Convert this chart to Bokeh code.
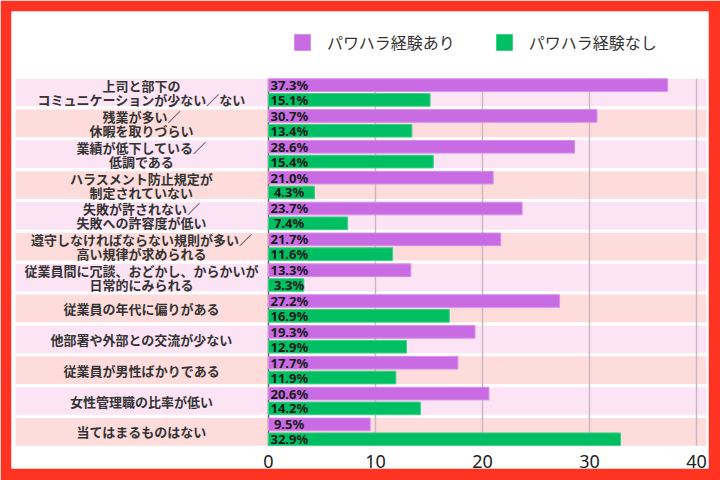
from bokeh.plotting import figure
from bokeh.models import Range1d, FixedTicker, Legend, LegendItem
from bokeh.core.properties import value
from bokeh.embed import file_html
from bokeh.resources import INLINE

# ---- data ----
categories = [
    "上司と部下の\nコミュニケーションが少ない／ない",
    "残業が多い／\n休暇を取りづらい",
    "業績が低下している／\n低調である",
    "ハラスメント防止規定が\n制定されていない",
    "失敗が許されない／\n失敗への許容度が低い",
    "遵守しなければならない規則が多い／\n高い規律が求められる",
    "従業員間に冗談、おどかし、からかいが\n日常的にみられる",
    "従業員の年代に偏りがある",
    "他部署や外部との交流が少ない",
    "従業員が男性ばかりである",
    "女性管理職の比率が低い",
    "当てはまるものはない",
]
with_pawahara = [37.3, 30.7, 28.6, 21.0, 23.7, 21.7, 13.3, 27.2, 19.3, 17.7, 20.6, 9.5]
without_pawahara = [15.1, 13.4, 15.4, 4.3, 7.4, 11.6, 3.3, 16.9, 12.9, 11.9, 14.2, 32.9]
series_names = ["パワハラ経験あり", "パワハラ経験なし"]
x_ticks = [0, 10, 20, 30, 40]
grid_ticks = [10, 20, 30, 40]

# ---- layout constants (pixels) ----
W, H = 720, 480
FRAME_L, FRAME_T, FRAME_R, FRAME_B = 11, 11, 708, 468
ZERO_PX, PX_PER_UNIT = 268, 10.7
ROW0_PX, PITCH = 92, 30.85
BAND_L_PX, BAND_R_PX = 15, 706
LABEL_CENTER_PX = 141
LINE_GAP_PX = 14

def xd(px):
    return (px - ZERO_PX) / PX_PER_UNIT

def yd(py):
    return (py - ROW0_PX) / PITCH

PURPLE = "#c96ce3"
GREEN = "#00bf63"
BAND_COLORS = ["#fde4f5", "#fddcdb"]
RED = "#ff3322"

p = figure(
    width=W, height=H,
    x_range=Range1d(xd(FRAME_L), xd(FRAME_R)),
    y_range=Range1d(yd(FRAME_B), yd(FRAME_T)),
    output_backend="svg", toolbar_location=None,
    min_border_left=FRAME_L, min_border_top=FRAME_T,
    min_border_right=W - FRAME_R, min_border_bottom=H - FRAME_B,
)
p.border_fill_color = RED
p.background_fill_color = "white"
p.outline_line_color = None
p.xgrid.visible = False
p.ygrid.visible = False
p.yaxis.visible = False

n = len(categories)
rows = list(range(n))
band_half = 0.449

# bands
p.quad(left=xd(BAND_L_PX), right=xd(BAND_R_PX),
       bottom=[r + band_half for r in rows], top=[r - band_half for r in rows],
       fill_color=[BAND_COLORS[r % 2] for r in rows], line_color=None)

# grid lines
p.segment(x0=grid_ticks, x1=grid_ticks,
          y0=[-band_half] * len(grid_ticks), y1=[n - 1 + band_half] * len(grid_ticks),
          line_color="#cbb7c2", line_width=1.5)
# axis line at 0
p.segment(x0=[0], x1=[0], y0=[-band_half], y1=[n - 1 + band_half],
          line_color="#666666", line_width=1.5)

off, bh = 0.24, 0.41
r1 = p.hbar(y=[r - off for r in rows], left=0, right=with_pawahara, height=bh,
            fill_color=PURPLE, line_color="#d690ea", line_width=1)
r2 = p.hbar(y=[r + off for r in rows], left=0, right=without_pawahara, height=bh,
            fill_color=GREEN, line_color="#3fd08a", line_width=1)

# value labels (padded like "%4.1f", with non-breaking space)
for vals, sgn in ((with_pawahara, -1), (without_pawahara, 1)):
    p.text(x=0, y=[r + sgn * off for r in rows],
           text=[f"{v:4.1f}%".replace(" ", "\u00a0") for v in vals],
           x_offset=2, text_baseline="middle", text_align="left",
           text_font=value("Noto Sans"), text_font_style="bold",
           text_font_size="13px", text_color="#1a1a1a")

# category labels, one glyph per line
lab_y, lab_t, lab_off = [], [], []
for r, cat in zip(rows, categories):
    lines = cat.split("\n")
    k = len(lines)
    for j, line in enumerate(lines):
        lab_y.append(r)
        lab_t.append(line)
        lab_off.append((j - (k - 1) / 2) * LINE_GAP_PX)
p.text(x=xd(LABEL_CENTER_PX), y=lab_y, text=lab_t, y_offset=lab_off,
       text_baseline="middle", text_align="center",
       text_font=value("Noto Sans CJK JP"), text_font_style="bold",
       text_font_size="13px", text_color="#333333")

# x axis inside the frame
xa = p.xaxis[0]
xa.fixed_location = yd(446)
xa.ticker = FixedTicker(ticks=x_ticks)
xa.axis_line_color = None
xa.major_tick_line_color = None
xa.minor_tick_line_color = None
xa.major_label_standoff = 2
xa.major_label_text_font = "Noto Sans"
xa.major_label_text_font_size = "18px"
xa.major_label_text_color = "#222222"

legend = Legend(
    items=[LegendItem(label=series_names[0], renderers=[r1]),
           LegendItem(label=series_names[1], renderers=[r2])],
    orientation="horizontal",
    location=(292 - FRAME_L, (FRAME_B - FRAME_T) - (34 - FRAME_T) - 20),
    glyph_width=20, glyph_height=20, label_height=20,
    label_standoff=15, spacing=39, padding=0, margin=0,
    border_line_color=None, background_fill_alpha=0,
    label_text_font="Noto Sans CJK JP", label_text_font_size="16px",
    label_text_color="#333333",
)
p.add_layout(legend)

open("out.html", "w").write(file_html(p, INLINE))
